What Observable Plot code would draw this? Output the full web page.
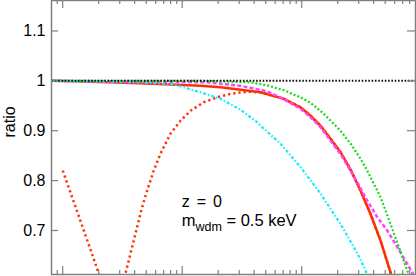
<!DOCTYPE html>
<html><head><meta charset="utf-8">
<script src="https://cdn.jsdelivr.net/npm/d3@7"></script>
<script src="https://cdn.jsdelivr.net/npm/@observablehq/plot@0.6"></script>
<style>body{margin:0;background:#fff} svg{display:block}</style>
</head><body><div id="chart"></div>
<script>
// axis domains and ticks
const kDomain = [0.00806, 8.96];
const ratioDomain = [0.6118, 1.161];
const yTicks = [0.7, 0.8, 0.9, 1, 1.1];
const yTickLabels = ["0.7", "0.8", "0.9", "1", "1.1"];
const xMajorTicks = [0.01, 0.1, 1];
const xMinorTicks = [0.009, 0.02, 0.03, 0.04, 0.05, 0.06, 0.07, 0.08, 0.09,
  0.2, 0.3, 0.4, 0.5, 0.6, 0.7, 0.8, 0.9, 2, 3, 4, 5, 6, 7, 8];

// series: [k, ratio]
const blackDotted = [[0.00806, 1], [8.96, 1]];
const greenDashDot = [[0.00806, 1.0], [0.142, 1.0], [0.373, 0.997], [0.514, 0.991], [0.709, 0.981],
  [0.977, 0.967], [1.185, 0.956], [1.531, 0.934], [2.112, 0.900], [2.562, 0.874], [3.105, 0.844],
  [3.533, 0.820], [4.565, 0.767], [5.536, 0.713], [6.497, 0.667], [7.636, 0.62], [8.5, 0.585]];
const magentaDashed = [[0.00806, 1.0], [0.0448, 0.9986], [0.162, 0.997], [0.308, 0.990], [0.373, 0.986],
  [0.514, 0.979], [0.709, 0.963], [0.977, 0.944], [1.185, 0.927], [1.437, 0.907], [1.742, 0.880],
  [2.112, 0.853], [2.562, 0.820], [2.913, 0.797], [3.533, 0.760], [4.283, 0.727], [5.195, 0.700],
  [6.3, 0.667], [7.636, 0.633], [8.41, 0.616], [8.96, 0.60]];
const redSolid = [[0.00806, 1.0], [0.0124, 0.999], [0.0448, 0.995], [0.142, 0.990], [0.209, 0.987],
  [0.308, 0.982], [0.452, 0.977], [0.709, 0.964], [0.977, 0.947], [1.185, 0.930], [1.437, 0.910],
  [1.742, 0.884], [2.112, 0.857], [2.562, 0.822], [3.105, 0.780], [3.765, 0.733], [4.565, 0.680],
  [5.536, 0.616], [6.7, 0.55]];
const cyanDashDot = [[0.00806, 1.0], [0.0448, 0.997], [0.0851, 0.993], [0.11, 0.985], [0.142, 0.977],
  [0.209, 0.964], [0.3075, 0.942], [0.424, 0.917], [0.482, 0.904], [0.665, 0.874], [0.977, 0.827],
  [1.437, 0.774], [2.112, 0.713], [2.913, 0.655], [3.42, 0.62], [3.8, 0.59]];
const redDotted = [[0.01002, 0.82], [0.01409, 0.719], [0.02005, 0.614], [0.0266, 0.53], [0.03354, 0.614],
  [0.04625, 0.747], [0.0509, 0.780], [0.0578, 0.82], [0.0658, 0.854], [0.0798, 0.894], [0.0968, 0.920],
  [0.1173, 0.940], [0.1516, 0.957], [0.1963, 0.967], [0.2536, 0.974], [0.350, 0.978], [0.452, 0.977],
  [0.709, 0.964], [0.977, 0.947], [1.185, 0.930], [1.437, 0.910], [1.742, 0.884], [2.112, 0.857],
  [2.562, 0.822], [3.105, 0.780], [3.765, 0.733], [4.565, 0.680], [5.536, 0.616], [6.7, 0.55]];

// annotation
const annotK = 0.1;
const annotRatio = [0.746, 0.708];
const annotLine1 = "z = 0";
const annotMain = "m", annotSub = "wdm", annotRest = " = 0.5 keV";

const W = 416, H = 276, mL = 51, mR = 1, mT = 0, mB = 2;
const pw = W - mL - mR, ph = H - mT - mB;
const grey = "#808080";
const font = "Liberation Sans, Arial, Helvetica, sans-serif";

const toRows = a => a.map(([k, r]) => ({k, r}));
const line = (a, opts) => Plot.line(toRows(a), {x: "k", y: "r", clip: true, strokeLinecap: "butt", ...opts});

const plot = Plot.plot({
  width: W, height: H,
  marginLeft: mL, marginRight: mR, marginTop: mT, marginBottom: mB,
  style: {fontFamily: font, background: "#fff"},
  x: {type: "log", domain: kDomain, axis: null},
  y: {domain: ratioDomain, axis: null},
  marks: [
    line(redSolid, {stroke: "#ff3000", strokeWidth: 2.5}),
    line(redDotted, {stroke: "#ff3000", strokeWidth: 2.5, strokeDasharray: "2.2,3"}),
    line(magentaDashed, {stroke: "#ff44ff", strokeWidth: 2.5, strokeDasharray: "4,2.2"}),
    line(greenDashDot, {stroke: "#11dd11", strokeWidth: 2.2, strokeDasharray: "2,2"}),
    line(cyanDashDot, {stroke: "#11eeff", strokeWidth: 2.2, strokeDasharray: "3,2,1.5,2"}),
    line(blackDotted, {stroke: "#111", strokeWidth: 2, strokeDasharray: "1.6,1.7"}),
    Plot.tickY(yTicks, {y: d => d, stroke: grey, strokeWidth: 1.2, insetRight: pw - 7}),
    Plot.tickY(yTicks, {y: d => d, stroke: grey, strokeWidth: 1.2, insetLeft: pw - 8}),
    Plot.tickX(xMajorTicks, {x: d => d, stroke: grey, strokeWidth: 1.2, insetBottom: ph - 8}),
    Plot.tickX(xMajorTicks, {x: d => d, stroke: grey, strokeWidth: 1.2, insetTop: ph - 8}),
    Plot.tickX(xMinorTicks, {x: d => d, stroke: grey, strokeWidth: 1.2, insetBottom: ph - 4}),
    Plot.tickX(xMinorTicks, {x: d => d, stroke: grey, strokeWidth: 1.2, insetTop: ph - 4}),
    Plot.axisY(yTicks, {anchor: "left", tickSize: 0, tickPadding: 6, fontSize: 16, fill: "#000",
      tickFormat: (d, i) => yTickLabels[yTicks.indexOf(d)], label: null}),
    Plot.text(["ratio"], {frameAnchor: "left", rotate: -90, dx: -42, fontSize: 16, fill: "#000"}),
    Plot.frame({stroke: grey, strokeWidth: 1.5})
  ]
});

const sx = plot.scale("x"), sy = plot.scale("y");
const svg = d3.select(plot);
svg.append("text")
  .attr("x", sx.apply(annotK)).attr("y", sy.apply(annotRatio[0]))
  .attr("text-anchor", "start")
  .attr("font-size", 16).attr("font-family", font).attr("fill", "#000")
  .attr("word-spacing", 2.5)
  .text(annotLine1);
const t2 = svg.append("text")
  .attr("x", sx.apply(annotK)).attr("y", sy.apply(annotRatio[1]))
  .attr("text-anchor", "start")
  .attr("font-size", 16.5).attr("font-family", font).attr("fill", "#000");
t2.append("tspan").text(annotMain);
t2.append("tspan").attr("font-size", 12.5).attr("dy", 5).text(annotSub);
t2.append("tspan").attr("dy", -5).text(annotRest);

document.getElementById("chart").appendChild(plot);
</script>
</body></html>
